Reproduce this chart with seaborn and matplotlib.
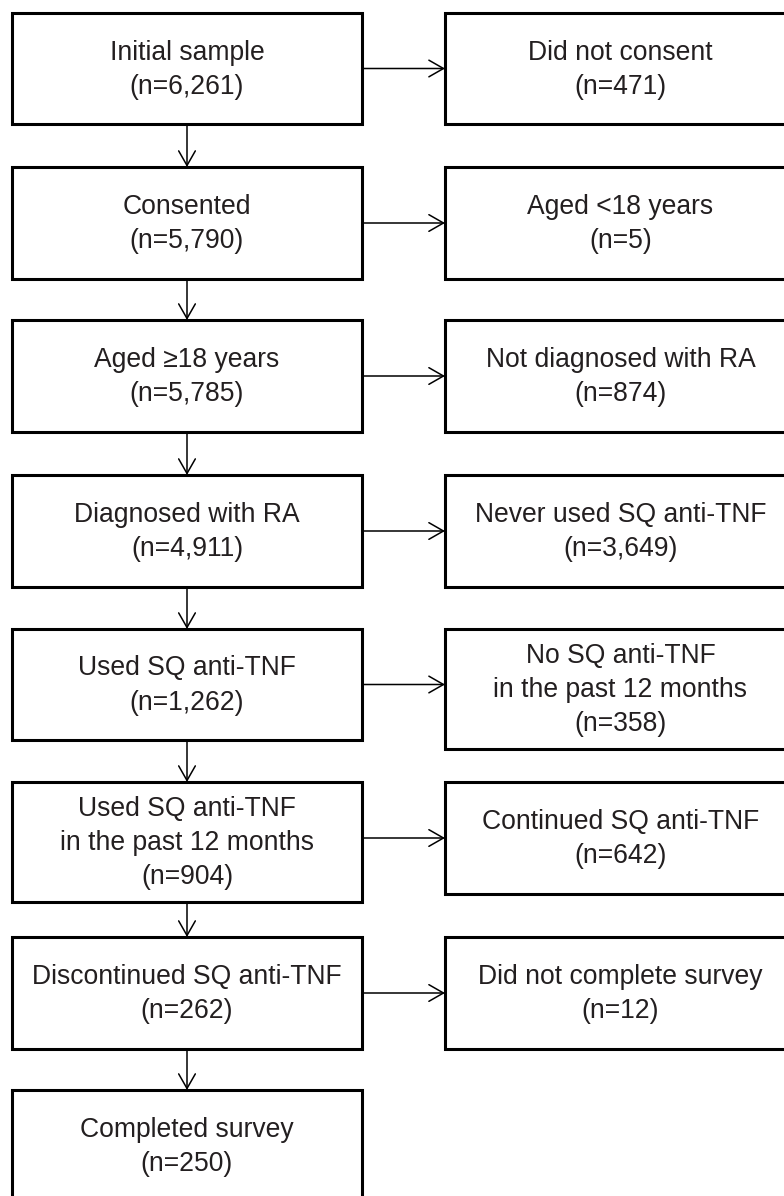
# Patient flow chart (study sample selection)

import matplotlib
matplotlib.use('Agg')
import matplotlib.pyplot as plt
from matplotlib.patches import Rectangle, FancyArrowPatch
import seaborn as sns

# Data
main_labels = ['Initial sample', 'Consented', 'Aged \u226518 years', 'Diagnosed with RA',
               'Used SQ anti-TNF', 'Used SQ anti-TNF\nin the past 12 months',
               'Discontinued SQ anti-TNF', 'Completed survey']
main_counts = [6261, 5790, 5785, 4911, 1262, 904, 262, 250]

excl_labels = ['Did not consent', 'Aged <18 years', 'Not diagnosed with RA',
               'Never used SQ anti-TNF', 'No SQ anti-TNF\nin the past 12 months',
               'Continued SQ anti-TNF', 'Did not complete survey']
excl_counts = [471, 5, 874, 3649, 358, 642, 12]

# Layout (pixels, y grows downward)
row_top = [13, 167, 320, 475, 629, 782, 937, 1090]
main_h = [111, 112, 112, 112, 111, 120, 112, 112]
excl_h = [111, 112, 112, 112, 120, 112, 112]
main_x0, main_x1 = 12, 362
excl_x0, excl_x1 = 445, 796
arrow_x = 187

sns.set_theme(style='white')
plt.rcParams['font.family'] = ['Liberation Sans', 'DejaVu Sans']

fig = plt.figure(figsize=(7.84, 11.96), dpi=100)
ax = fig.add_axes([0, 0, 1, 1])
ax.set_xlim(0, 784)
ax.set_ylim(1196, 0)
ax.axis('off')

text_kw = dict(ha='center', va='center', fontsize=19.1, color='#231f20', linespacing=1.4)
box_kw = dict(facecolor='white', edgecolor='black', lw=2.2, joinstyle='miter')
arrow_kw = dict(arrowstyle='->,head_length=10.5,head_width=6', mutation_scale=1,
                lw=1.1, color='black', shrinkA=0, shrinkB=0)


def draw_box(x0, x1, top, h, text):
    ax.add_patch(Rectangle((x0, top), x1 - x0, h, **box_kw))
    ax.text((x0 + x1) / 2, top + h / 2 + 1, text, **text_kw)


for i, (lab, n) in enumerate(zip(main_labels, main_counts)):
    draw_box(main_x0, main_x1, row_top[i], main_h[i], f'{lab}\n(n={n:,})')
    if i < len(main_labels) - 1:
        ax.add_patch(FancyArrowPatch((arrow_x, row_top[i] + main_h[i]),
                                     (arrow_x, row_top[i + 1]), **arrow_kw))

for i, (lab, n) in enumerate(zip(excl_labels, excl_counts)):
    draw_box(excl_x0, excl_x1, row_top[i], excl_h[i], f'{lab}\n(n={n:,})')
    y = row_top[i] + min(main_h[i], excl_h[i]) / 2
    ax.add_patch(FancyArrowPatch((main_x1, y), (excl_x0, y), **arrow_kw))

plt.savefig('out.png', dpi=100, facecolor='white')
